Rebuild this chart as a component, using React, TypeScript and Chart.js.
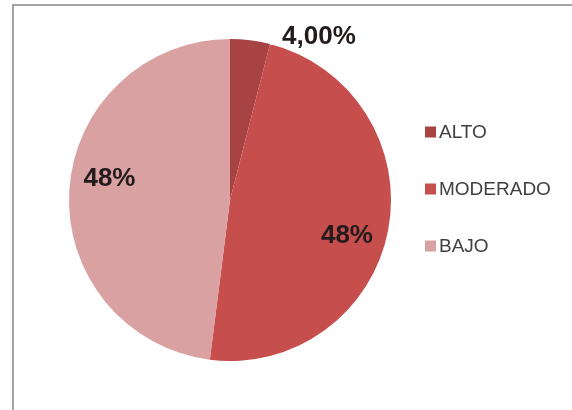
import React, { useEffect, useRef } from "react";
import { Chart, registerables } from "chart.js";

Chart.register(...registerables);

const categories = ["ALTO", "MODERADO", "BAJO"];
const values = [4, 48, 48];
const valueLabels = ["4,00%", "48%", "48%"];
const colors = ["#a84343", "#c64e4d", "#d9a1a1"];

const W = 572;
const H = 410;

const labelPlugin = {
  id: "sliceLabels",
  afterDraw(chart: any) {
    const ctx = chart.ctx as CanvasRenderingContext2D;
    const meta = chart.getDatasetMeta(0);
    const total = values.reduce((a, b) => a + b, 0);
    ctx.save();
    meta.data.forEach((arc: any, i: number) => {
      const p = arc.getProps(["x", "y", "startAngle", "endAngle", "outerRadius"], true);
      const mid = (p.startAngle + p.endAngle) / 2 + 0.11;
      const frac = values[i] / total;
      ctx.font = 'bold 26px "Liberation Sans", Arial, sans-serif';
      ctx.fillStyle = "#231b1b";
      if (frac < 0.1) {
        const ex = p.x + Math.cos(p.endAngle) * p.outerRadius;
        ctx.textAlign = "left";
        ctx.textBaseline = "alphabetic";
        ctx.fillText(valueLabels[i], ex + 12, p.y - p.outerRadius + 5);
      } else {
        const r = p.outerRadius * 0.76;
        ctx.textAlign = "center";
        ctx.textBaseline = "middle";
        ctx.fillText(valueLabels[i], p.x + Math.cos(mid) * r, p.y + Math.sin(mid) * r);
      }
    });
    // legend
    ctx.font = '19px "Liberation Sans", Arial, sans-serif';
    ctx.textAlign = "left";
    ctx.textBaseline = "middle";
    categories.forEach((c, i) => {
      const y = 132 + i * 57;
      ctx.fillStyle = colors[i];
      ctx.fillRect(425, y - 5.5, 11, 11);
      ctx.fillStyle = "#404040";
      ctx.fillText(c, 439, y + 1);
    });
    ctx.restore();
  },
};

export default function App() {
  const ref = useRef<HTMLCanvasElement | null>(null);
  useEffect(() => {
    if (!ref.current) return;
    const chart = new Chart(ref.current, {
      type: "pie",
      data: {
        labels: categories,
        datasets: [
          {
            data: values,
            backgroundColor: colors,
            borderWidth: 0,
          },
        ],
      },
      options: {
        responsive: false,
        animation: false,
        layout: { padding: { left: 69, right: 181, top: 39, bottom: 49 } },
        plugins: {
          legend: { display: false },
          tooltip: { enabled: false },
        },
      },
      plugins: [labelPlugin],
    });
    return () => chart.destroy();
  }, []);
  return (
    <div style={{ position: "absolute", left: 0, top: 0, width: W, height: H, background: "#fff", overflow: "hidden" }}>
      <div
        style={{
          position: "absolute",
          left: 12,
          top: 4,
          width: W,
          height: H,
          borderLeft: "2px solid #a3a3a3",
          borderTop: "2px solid #a3a3a3",
          boxSizing: "border-box",
        }}
      />
      <canvas ref={ref} width={W} height={H} style={{ position: "absolute", left: 0, top: 0, width: W, height: H }} />
    </div>
  );
}
